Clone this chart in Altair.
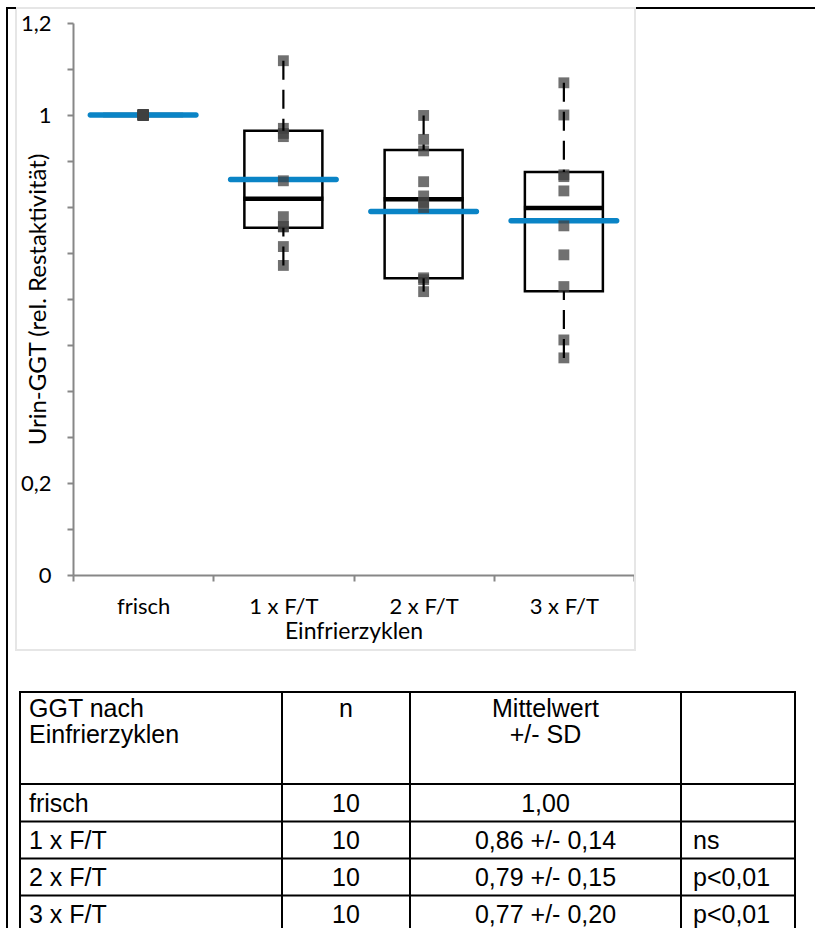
import altair as alt
import pandas as pd

# ---------------- data ----------------
categories = ["frisch", "1 x F/T", "2 x F/T", "3 x F/T"]

values_frisch = [1.000, 1.000, 1.000, 1.000, 1.000, 1.000, 1.000, 1.000, 1.000, 1.000]
values_1ft = [0.673, 0.714, 0.757, 0.757, 0.779, 0.857, 0.953, 0.960, 0.971, 1.118]
values_2ft = [0.616, 0.642, 0.646, 0.799, 0.810, 0.824, 0.855, 0.922, 0.947, 0.999]
values_3ft = [0.472, 0.511, 0.627, 0.696, 0.759, 0.835, 0.866, 0.870, 1.000, 1.070]

box_q1 = [1.000, 0.755, 0.645, 0.617]
box_median = [1.000, 0.818, 0.817, 0.798]
box_q3 = [1.000, 0.966, 0.924, 0.876]
whisker_min = [1.000, 0.673, 0.616, 0.472]
whisker_max = [1.000, 1.118, 0.999, 1.070]
group_mean = [1.00, 0.86, 0.79, 0.77]

y_tick_values = [0, 0.1, 0.2, 0.3, 0.4, 0.5, 0.6, 0.7, 0.8, 0.9, 1.0, 1.1, 1.2]
y_labelled_values = [0, 0.2, 1.0, 1.2]
x_title = "Einfrierzyklen"
y_title = "Urin-GGT (rel. Restaktivität)"

table_col1 = ["GGT nach\nEinfrierzyklen", "frisch", "1 x F/T", "2 x F/T", "3 x F/T"]
table_col2 = ["n", "10", "10", "10", "10"]
table_col3 = ["Mittelwert\n+/- SD", "1,00", "0,86 +/- 0,14", "0,79 +/- 0,15", "0,77 +/- 0,20"]
table_col4 = ["", "", "ns", "p<0,01", "p<0,01"]

# ---------------- layout constants (page pixels) ----------------
PAGE_W, PAGE_H = 815, 928
ORIGIN_X, ORIGIN_Y = 73, 23          # top-left of plot area
PLOT_W, PLOT_H = 561, 552
TABLE_X_EDGES = [20, 282, 410, 681, 795]
TABLE_Y_EDGES = [692, 784, 821.5, 858.5, 895.5, 932]
TEXT_PAD = [9, 0, 0, 12]
HEAD_LINE_H = 26
CHART_FONT = "Lato"
TABLE_FONT = "Liberation Sans"
AXIS_GREY = "#878787"

# ---------------- tables for the marks ----------------
groups = [values_frisch, values_1ft, values_2ft, values_3ft]
points = pd.DataFrame({
    "Gruppe": [c for c, vals in zip(categories, groups) for _ in vals],
    "Wert": [v for vals in groups for v in vals],
})
stats = pd.DataFrame({
    "Gruppe": categories, "q1": box_q1, "median": box_median, "q3": box_q3,
    "lo": whisker_min, "hi": whisker_max, "mean": group_mean,
})

label_test = " || ".join(f"abs(datum.value - {v}) < 1e-6" for v in y_labelled_values)
y_axis = alt.Axis(
    values=y_tick_values,
    labelExpr=f"({label_test}) ? replace(format(datum.value, '~g'), '.', ',') : ''",
    grid=False, tickSize=6, tickWidth=2, tickColor=AXIS_GREY,
    domainColor=AXIS_GREY, domainWidth=2,
    labelFont=CHART_FONT, labelFontSize=22, labelColor="black", labelPadding=16,
    title=y_title, titleFont=CHART_FONT, titleFontSize=24, titleFontWeight="normal",
    titleColor="black", titleAngle=-90, titleX=-28, titleY=PLOT_H / 2,
    titleAlign="center", titleBaseline="alphabetic",
)
x_axis = alt.Axis(
    tickBand="extent", labelAngle=0, grid=False, tickSize=6, tickWidth=2,
    tickColor=AXIS_GREY, domainColor=AXIS_GREY, domainWidth=2,
    labelFont=CHART_FONT, labelFontSize=22, labelColor="black", labelPadding=15,
    title=x_title, titleFont=CHART_FONT, titleFontSize=23, titleFontWeight="normal",
    titleColor="black", titlePadding=3,
)
y_scale = alt.Scale(domain=[0, 1.2], nice=False, zero=True)
x_enc = alt.X("Gruppe:N", scale=alt.Scale(domain=categories, paddingInner=0, paddingOuter=0),
              axis=x_axis, sort=categories)


def y_enc(field):
    return alt.Y(f"{field}:Q", scale=y_scale, axis=y_axis, title=y_title)


base_stats = alt.Chart(stats)

box = base_stats.mark_bar(width=78, fill="transparent", stroke="black", strokeWidth=2.5).encode(
    x=x_enc, y=y_enc("q1"), y2="q3")
median = base_stats.mark_tick(thickness=4.5, size=80, color="black", opacity=1).encode(
    x=x_enc, y=y_enc("median"))
mean = base_stats.mark_tick(thickness=5.5, size=111, color="#0a84c6", opacity=1,
                            cornerRadius=2.5).encode(x=x_enc, y=y_enc("mean"))
pts = alt.Chart(points).mark_square(size=118, color="#404040", opacity=0.75, strokeWidth=0).encode(
    x=x_enc, y=y_enc("Wert"))
whisk_hi = base_stats.mark_rule(color="black", strokeWidth=2.2, strokeDash=[19, 10]).encode(
    x=x_enc, y=y_enc("hi"), y2="q3")
whisk_lo = base_stats.mark_rule(color="black", strokeWidth=2.2, strokeDash=[19, 10]).encode(
    x=x_enc, y=y_enc("lo"), y2="q1")

# ---------------- decorations: chart frame and page border ----------------
one = pd.DataFrame({"d": [0]})
frame = alt.Chart(one).mark_rect(fill="transparent", stroke="#e6e6e6", strokeWidth=2).encode(
    x=alt.value(16 - ORIGIN_X), x2=alt.value(635 - ORIGIN_X),
    y=alt.value(8 - ORIGIN_Y), y2=alt.value(650 - ORIGIN_Y))
page_left = alt.Chart(one).mark_rule(color="black", strokeWidth=2).encode(
    x=alt.value(7 - ORIGIN_X), y=alt.value(8 - ORIGIN_Y), y2=alt.value(PAGE_H - ORIGIN_Y))
page_top_l = alt.Chart(one).mark_rule(color="black", strokeWidth=2).encode(
    x=alt.value(6 - ORIGIN_X), x2=alt.value(16 - ORIGIN_X), y=alt.value(8 - ORIGIN_Y))
page_top_r = alt.Chart(one).mark_rule(color="black", strokeWidth=2).encode(
    x=alt.value(636 - ORIGIN_X), x2=alt.value(PAGE_W - ORIGIN_X), y=alt.value(8 - ORIGIN_Y))

# ---------------- table ----------------
table_cols = [table_col1, table_col2, table_col3, table_col4]
col_align = ["left", "center", "center", "left"]
cells = []
for c, col in enumerate(table_cols):
    for r, txt in enumerate(col):
        if not txt:
            continue
        if col_align[c] == "left":
            tx = TABLE_X_EDGES[c] + TEXT_PAD[c]
        else:
            tx = (TABLE_X_EDGES[c] + TABLE_X_EDGES[c + 1]) / 2
        lines = txt.split("\n")
        for k, line in enumerate(lines):
            if r == 0:
                ty = TABLE_Y_EDGES[0] + 25 + k * HEAD_LINE_H      # alphabetic baseline
            else:
                ty = (TABLE_Y_EDGES[r] + TABLE_Y_EDGES[r + 1]) / 2 + 9
            cells.append({"label": line, "tx": tx - ORIGIN_X, "ty": ty - ORIGIN_Y,
                          "al": col_align[c]})
cells = pd.DataFrame(cells)

text_layers = []
for al in ["left", "center"]:
    sub = cells[cells["al"] == al]
    text_layers.append(
        alt.Chart(sub).mark_text(align=al, baseline="alphabetic", font=TABLE_FONT, fontSize=25,
                                 color="black").encode(
            x=alt.X("tx:Q", scale=None), y=alt.Y("ty:Q", scale=None), text="label:N"))

grid = []
for yy in TABLE_Y_EDGES:
    grid.append({"gx": TABLE_X_EDGES[0] - ORIGIN_X, "gx2": TABLE_X_EDGES[-1] - ORIGIN_X,
                 "gy": yy - ORIGIN_Y, "gy2": yy - ORIGIN_Y})
for xx in TABLE_X_EDGES:
    grid.append({"gx": xx - ORIGIN_X, "gx2": xx - ORIGIN_X,
                 "gy": TABLE_Y_EDGES[0] - ORIGIN_Y, "gy2": TABLE_Y_EDGES[-1] - ORIGIN_Y})
grid = pd.DataFrame(grid)
grid_layer = alt.Chart(grid).mark_rule(color="black", strokeWidth=2, strokeCap="square").encode(
    x=alt.X("gx:Q", scale=None), x2="gx2:Q", y=alt.Y("gy:Q", scale=None), y2="gy2:Q")

chart = alt.layer(
    frame, box, median, mean, pts, whisk_hi, whisk_lo,
    grid_layer, *text_layers, page_left, page_top_l, page_top_r,
).properties(
    width=PLOT_W, height=PLOT_H,
    autosize=alt.AutoSizeParams(type="none"),
    padding={"left": ORIGIN_X, "top": ORIGIN_Y,
             "right": PAGE_W - ORIGIN_X - PLOT_W, "bottom": PAGE_H - ORIGIN_Y - PLOT_H},
    background="white",
).configure_view(stroke="transparent")

chart.save("out.html", embed_options={"renderer": "svg", "actions": False})
